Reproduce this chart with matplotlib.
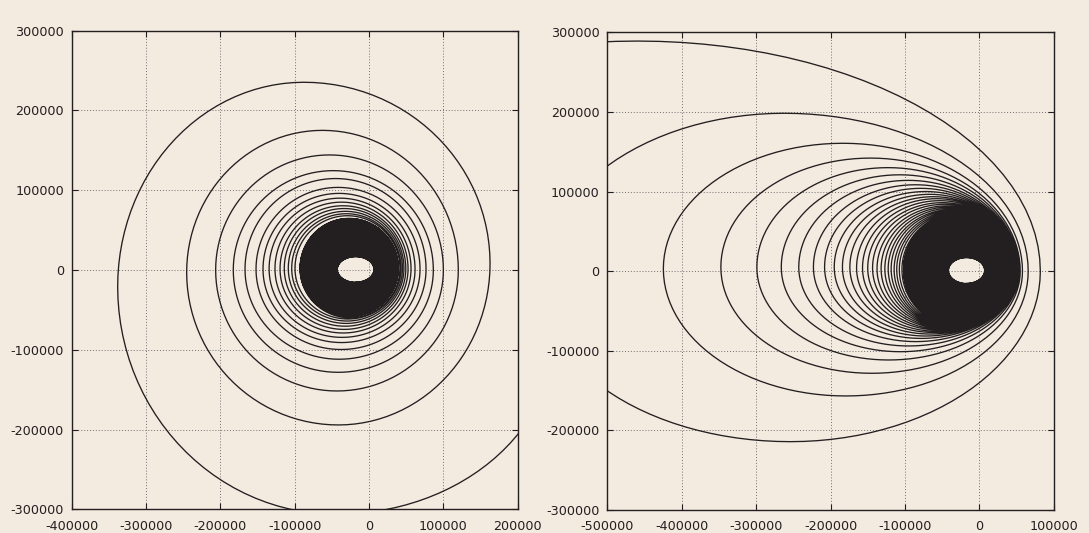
import numpy as np
import matplotlib
matplotlib.use("Agg")
import matplotlib.pyplot as plt

BG = "#f3eae0"
INK = "#231f20"

# ---------------- data (orbit turns, outer -> inner; extremes in data units) ----------------
# Left panel: each turn has left-most x, top y, right-most x, bottom y, and the y of the
# left / right extreme points.  Turn 0 starts outside the frame at its right extreme.
left_L = [np.nan, -338100, -245300, -206300, -182600, -166800, -152000, -142600,
          -134400, -126500, -119700, -114000, -108600, -104000, -99600]
left_T = [np.nan, 235300, 175000, 144200, 124500, 114600, 103500, 96000,
          90000, 85000, 80500, 77000, 73500, 70500, 68000]
left_R = [250000, 162800, 120100, 100000, 86500, 76700, 68600, 61900,
          56500, 52500, 49500, 47000, 45000, 43000, 41500]
left_B = [-306300, -194300, -151700, -128300, -111900, -99700, -91000, -84500,
          -79000, -74500, -70500, -67000, -64000, -61500, -60000]
left_Ly = [np.nan, -20900, -3000, 0, 0, 1000, 1000, 1000, 1500, 1500, 1500, 2000, 2000, 2000, 2000]
left_Ry = [-80000, 8000, 0, 0, 0, 1000, 1000, 1000, 1500, 1500, 1500, 2000, 2000, 2000, 2000]
# solid band (L, T, R, B) and the empty hole (L, T, R, B)
left_band = [-93000, 64800, 39400, -58500]
left_hole = [-42700, 16700, 6700, -15400]

# Right panel (elongated orbits). Turn 0 starts at a left extreme outside the frame.
right_L = [-1000000, -590000, -424700, -347400, -299000, -266200, -242700, -223000,
           -208000, -195000, -184000, -174000, -165000, -157000, -150000, -143500,
           -137500, -132000, -127000, -122500, -118500, -114500, -111000, -107500, -104000]
right_T = [289000, 198300, 160600, 142000, 130000, 121000, 114000, 108500,
           104000, 100000, 96500, 93500, 91000, 88500, 86000, 84000,
           82000, 80500, 79000, 77500, 76500, 75500, 74500, 73700, 73000]
right_R = [82000, 65700, 58000, 55000, 53500, 52500, 52000, 51500,
           51000, 51000, 51000, 50900, 50800, 50700, 50700, 50600,
           50600, 50500, 50500, 50500, 50400, 50400, 50400, 50300, 50300]
right_B = [-214200, -156800, -128300, -111600, -101200, -94000, -88500, -84500,
           -81500, -79000, -77000, -75500, -74000, -73000, -72000, -71300,
           -70800, -70500, -70300, -70200, -70100, -70000, -69900, -69900, -69800]
right_Ly = [30000, -14000, 3000, 5000, 5000, 5000, 5000, 5000, 5000, 5000, 5000, 5000,
            4000, 4000, 4000, 4000, 3000, 3000, 3000, 3000, 3000, 2000, 2000, 2000, 2000]
right_Ry = [0] * 25
right_band = [-102100, 72700, 50300, -69800]
right_hole = [-41500, 17000, 7200, -15400]

N_DENSE = 260

left_xticks = [-400000, -300000, -200000, -100000, 0, 100000, 200000]
right_xticks = [-500000, -400000, -300000, -200000, -100000, 0, 100000]
yticks = [-300000, -200000, -100000, 0, 100000, 200000, 300000]


def all_turns(L, T, R, B, Ly, Ry, band, hole, n):
    L, T, R, B = list(L), list(T), list(R), list(B)
    Ly, Ry = list(Ly), list(Ry)
    yc_hole = (hole[1] + hole[3]) / 2.0
    yc_band = Ly[-1]
    for j in range(n):
        f = 1.0 - (j + 1) / n
        L.append(hole[0] + (band[0] - hole[0]) * f)
        T.append(hole[1] + (band[1] - hole[1]) * f)
        R.append(hole[2] + (band[2] - hole[2]) * f)
        B.append(hole[3] + (band[3] - hole[3]) * f)
        yc = yc_hole + (yc_band - yc_hole) * f
        Ly.append(yc)
        Ry.append(yc)
    return L, T, R, B, Ly, Ry


def spiral(L, T, R, B, Ly, Ry, npts=30):
    pts = []  # (x, y, is_horizontal_extreme)
    nt = len(L)
    for k in range(nt):
        Lnext = L[k + 1] if k + 1 < nt else L[k]
        if not np.isnan(L[k]):
            pts.append((L[k], Ly[k], True))
            pts.append(((L[k] + R[k]) / 2.0, T[k], False))
        pts.append((R[k], Ry[k], True))
        pts.append(((R[k] + Lnext) / 2.0, B[k], False))
    phi = np.linspace(0, np.pi / 2, npts)
    xs, ys = [], []
    for (px, py, ph), (qx, qy, qh) in zip(pts[:-1], pts[1:]):
        if ph:
            cx, cy = qx, py
        else:
            cx, cy = px, qy
        xs.append(cx + (px - cx) * np.cos(phi) + (qx - cx) * np.sin(phi))
        ys.append(cy + (py - cy) * np.cos(phi) + (qy - cy) * np.sin(phi))
    return np.concatenate(xs), np.concatenate(ys)


fig = plt.figure(figsize=(10.89, 5.33), dpi=100, facecolor=BG)
ax1 = fig.add_axes([0.0658, 0.0445, 0.4096, 0.898])
ax2 = fig.add_axes([0.5577, 0.0432, 0.4099, 0.8962])

panels = [
    (ax1, (left_L, left_T, left_R, left_B, left_Ly, left_Ry, left_band, left_hole), left_xticks, (-400000, 200000)),
    (ax2, (right_L, right_T, right_R, right_B, right_Ly, right_Ry, right_band, right_hole), right_xticks, (-500000, 100000)),
]

for ax, d, xt, xl in panels:
    ax.set_facecolor(BG)
    L, T, R, B, Ly, Ry = all_turns(*d, N_DENSE)
    x, y = spiral(L, T, R, B, Ly, Ry)
    ax.plot(x, y, color=INK, lw=0.95, solid_joinstyle="round")
    ax.set_xlim(*xl)
    ax.set_ylim(-300000, 300000)
    ax.set_xticks(xt)
    ax.set_yticks(yticks)
    ax.set_xticklabels([f"{v}" for v in xt])
    ax.set_yticklabels([f"{v}" for v in yticks])
    ax.grid(True, linestyle=(0, (1, 2)), color="#707070", lw=0.7)
    ax.set_axisbelow(True)
    ax.tick_params(direction="in", length=4.5, width=0.8, color=INK,
                   top=True, right=True, labelsize=9.2, labelcolor=INK)
    ax.tick_params(axis="x", pad=7.5)
    ax.tick_params(axis="y", pad=5.5)
    for s in ax.spines.values():
        s.set_color(INK)
        s.set_linewidth(1.0)
    for lab in ax.get_xticklabels() + ax.get_yticklabels():
        lab.set_fontfamily("DejaVu Sans")

fig.savefig("out.png", dpi=100, facecolor=BG)
